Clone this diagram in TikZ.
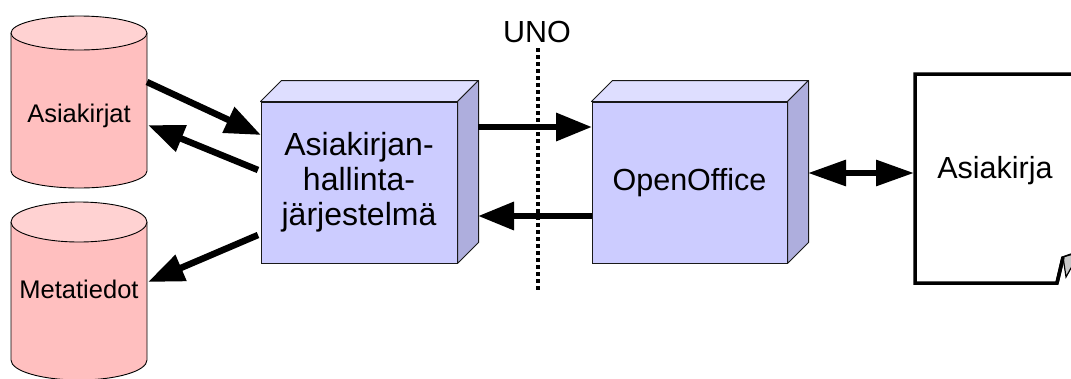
\documentclass[tikz,border=0pt]{standalone}
\usepackage{fontspec}
\setmainfont{Liberation Sans}
\usetikzlibrary{arrows.meta}
\definecolor{cylbody}{HTML}{FFBFBF}
\definecolor{cyltop}{HTML}{FFD2D2}
\definecolor{boxfront}{HTML}{CCCCFF}
\definecolor{boxtop}{HTML}{DEDEFF}
\definecolor{boxside}{HTML}{AEAEDD}
\definecolor{foldgrey}{HTML}{C8C8C8}
\tikzset{
  cyltext/.style={font=\fontsize{25.5}{30}\selectfont, anchor=base, inner sep=0pt},
  bigtext/.style={font=\fontsize{30.5}{34}\selectfont},
  cube/.style={draw=black!90, line width=1pt, fill=boxfront, minimum width=196pt, minimum height=161pt, inner sep=0pt, align=center, font=\fontsize{30.5}{34}\selectfont},
  face/.style={draw=black!90, line width=1pt, line join=round},
  cylline/.style={draw=black, line width=0.9pt},
  flow/.style={line width=6.5pt, -{Triangle[length=36pt,width=27pt]}},
  flowboth/.style={line width=6pt, {Triangle[length=38pt,width=25pt]}-{Triangle[length=38pt,width=25pt]}},
  sep/.style={line width=4pt, dash pattern=on 4pt off 3pt},
  page/.style={line width=3.5pt, line join=miter},
}
\begin{document}
\begin{tikzpicture}[x=1pt, y=-1pt]
\useasboundingbox (0,0) rectangle (1071,378);
\clip (0,0) rectangle (1071,378);
% cylinder 1: Asiakirjat
\fill[cylbody] (11,33) -- (11,171) arc[start angle=180, end angle=0, x radius=68, y radius=17] -- (147,33) -- cycle;
\draw[cylline] (11,33) -- (11,171) arc[start angle=180, end angle=0, x radius=68, y radius=17] -- (147,33);
\draw[cylline, fill=cyltop] (79,33) ellipse[x radius=68, y radius=17];
\node[cyltext] (ak) at (79,122) {Asiakirjat};
% cylinder 2: Metatiedot
\fill[cylbody] (11,222) -- (11,360) arc[start angle=180, end angle=0, x radius=68, y radius=20] -- (147,222) -- cycle;
\draw[cylline] (11,222) -- (11,360) arc[start angle=180, end angle=0, x radius=68, y radius=20] -- (147,222);
\draw[cylline, fill=cyltop] (79,222) ellipse[x radius=68, y radius=20];
\node[cyltext] (mt) at (79,298) {Metatiedot};
% boxes
\node[cube, font=\fontsize{32}{35}\selectfont] (dms) at (359,182.5) {Asiakirjan-\\hallinta-\\järjestelmä};
\draw[face, fill=boxtop] (dms.north west) -- ++(21,-21) -- ([shift={(21,-21)}]dms.north east) -- (dms.north east) -- cycle;
\draw[face, fill=boxside] (dms.north east) -- ++(21,-21) -- ([shift={(21,-21)}]dms.south east) -- (dms.south east) -- cycle;
\node[cube, minimum width=195pt] (oo) at (689.5,182.5) {OpenOffice};
\draw[face, fill=boxtop] (oo.north west) -- ++(21,-21) -- ([shift={(21,-21)}]oo.north east) -- (oo.north east) -- cycle;
\draw[face, fill=boxside] (oo.north east) -- ++(21,-21) -- ([shift={(21,-21)}]oo.south east) -- (oo.south east) -- cycle;
% document
\draw[page] (1080,74) -- (915,74) -- (915,283) -- (1057,283) -- (1063,258) -- (1080,252);
\draw[line width=1.2pt, fill=foldgrey] (1063,257) -- (1080,252) -- (1066,277) -- cycle;
\draw[page] (1057,283) -- (1063,257);
\node[bigtext, anchor=base] (doc) at (995,178) {Asiakirja};
% UNO separator
\node[bigtext, anchor=base] (uno) at (537,42) {UNO};
\coordinate (unotop) at (538,48);
\coordinate (unobot) at (538,290);
\draw[sep] (unotop) -- (unobot);
% connector end points
\coordinate (ak-out) at (147,82);
\coordinate (dms-in) at (261,135);
\coordinate (dms-out1) at (258,170);
\coordinate (ak-in) at (148,125);
\coordinate (dms-out2) at (258,235);
\coordinate (mt-in) at (148,282);
\coordinate (dms-r1) at (478,127);
\coordinate (oo-l1) at (592,127);
\coordinate (oo-l2) at (592,216);
\coordinate (dms-r2) at (478,216);
\coordinate (oo-r) at (808,173);
\coordinate (doc-l) at (914,173);
% connectors
\draw[flow] (ak-out) -- (dms-in);
\draw[flow] (dms-out1) -- (ak-in);
\draw[flow] (dms-out2) -- (mt-in);
\draw[flow] (dms-r1) -- (oo-l1);
\draw[flow] (oo-l2) -- (dms-r2);
\draw[flowboth] (oo-r) -- (doc-l);
\end{tikzpicture}
\end{document}
